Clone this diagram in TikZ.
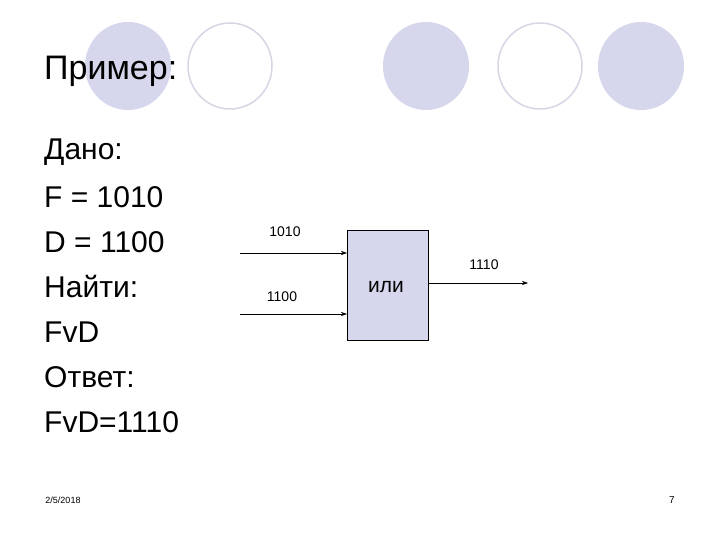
\documentclass[tikz,border=0pt]{standalone}
\usepackage{fontspec}
\setmainfont{Liberation Sans}
\begin{document}
\begin{tikzpicture}[x=1pt,y=-1pt,
  fillc/.style={fill=lav,draw=none},
  openc/.style={draw=lavline,line width=1.5pt,fill=white},
  big/.style={font=\fontsize{30}{30}\selectfont,anchor=west,inner sep=0},
  small/.style={font=\fontsize{14}{14}\selectfont,inner sep=0},
  arr/.style={-{Stealth[length=6pt,width=4pt]},line width=0.6pt}]
\usetikzlibrary{arrows.meta}
\definecolor{lav}{RGB}{214,214,236}
\definecolor{lavline}{RGB}{214,214,228}
\useasboundingbox (0,0) rectangle (720,540);
\fill[white] (0,0) rectangle (720,540);
\fill[fillc] (128,66) ellipse (43 and 44);
\draw[openc] (230,66) ellipse (42 and 43);
\fill[fillc] (426,66) ellipse (43 and 44);
\draw[openc] (540,66) ellipse (42 and 43);
\fill[fillc] (641,66) ellipse (43 and 44);
\node[big,font=\fontsize{34}{34}\selectfont] (title) at (44,71) {Пример:};
\node[big] (l1) at (44,152) {Дано:};
\node[big] (l2) at (44,197) {F = 1010};
\node[big] (l3) at (44,242) {D = 1100};
\node[big] (l4) at (44,287) {Найти:};
\node[big] (l5) at (44,332) {FvD};
\node[big] (l6) at (44,377) {Ответ:};
\node[big] (l7) at (44,422) {FvD=1110};
\node[draw=black,fill=lav,line width=0.6pt,minimum width=81,minimum height=110,inner sep=0,anchor=north west] (box) at (347,230) {};
\node[font=\fontsize{21}{21}\selectfont,inner sep=0] (or) at (386,287) {или};
\coordinate (a1) at (240,253);
\coordinate (a2) at (240,314);
\coordinate (o) at (528,283);
\draw[arr] (a1) -- (a1 -| box.west);
\draw[arr] (a2) -- (a2 -| box.west);
\draw[arr] (o -| box.east) -- (o);
\node[small] (t1) at (285,232) {1010};
\node[small] (t2) at (282,297) {1100};
\node[small] (t3) at (484,265) {1110};
\node[font=\fontsize{9}{9}\selectfont,inner sep=0] (date) at (63,500) {2/5/2018};
\node[font=\fontsize{10}{10}\selectfont,inner sep=0] (pg) at (672,500) {7};
\end{tikzpicture}
\end{document}
